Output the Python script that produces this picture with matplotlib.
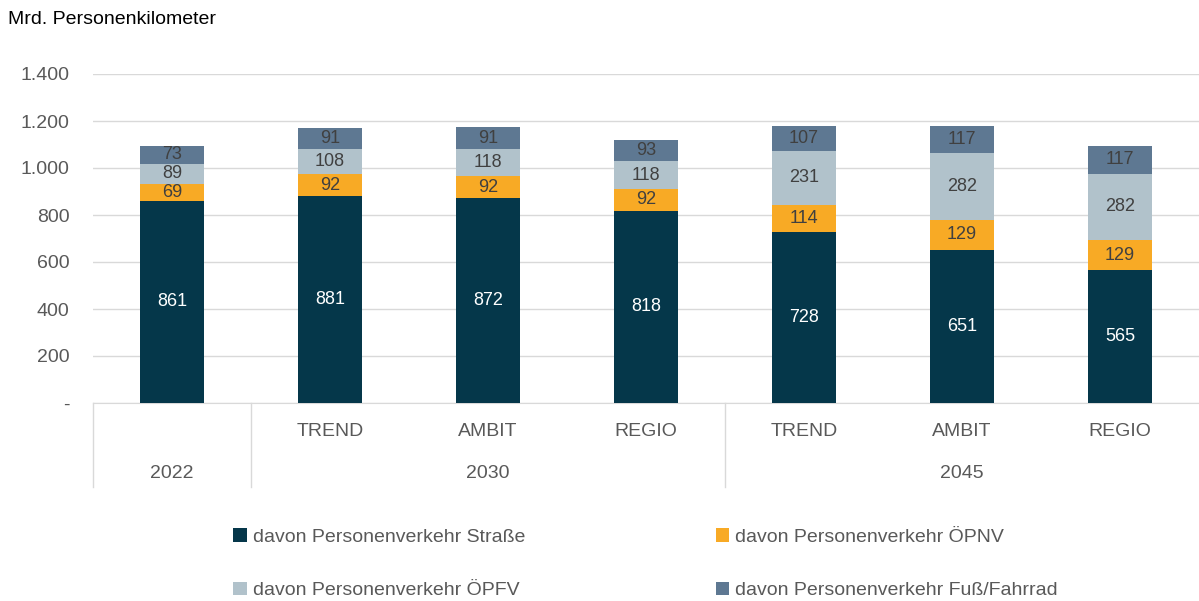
import matplotlib.pyplot as plt
from matplotlib.ticker import FuncFormatter
import numpy as np

plt.rcParams['font.family'] = ['Liberation Sans', 'DejaVu Sans']

scenarios = ["", "TREND", "AMBIT", "REGIO", "TREND", "AMBIT", "REGIO"]
years = ["2022", "2030", "2045"]
year_spans = [(0, 1), (1, 4), (4, 7)]  # category index ranges per year

strasse = [861, 881, 872, 818, 728, 651, 565]
oepnv = [69, 92, 92, 92, 114, 129, 129]
oepfv = [89, 108, 118, 118, 231, 282, 282]
fuss = [73, 91, 91, 93, 107, 117, 117]

series = [
    ("davon Personenverkehr Straße", strasse, "#05374A", "white"),
    ("davon Personenverkehr ÖPNV", oepnv, "#F8AA25", "#404040"),
    ("davon Personenverkehr ÖPFV", oepfv, "#B1C2CB", "#404040"),
    ("davon Personenverkehr Fuß/Fahrrad", fuss, "#5E7892", "#404040"),
]

grey = "#595959"
fig = plt.figure(figsize=(11.99, 6.01), dpi=100)
ax = fig.add_axes([93 / 1199, 1 - 403 / 601, 1 - 93 / 1199, (403 - 74) / 601])

x = np.arange(len(scenarios))
bottom = np.zeros(len(scenarios))
handles = []
for label, vals, color, tcolor in series:
    bars = ax.bar(x, vals, width=0.405, bottom=bottom, color=color, label=label, zorder=3)
    handles.append(bars)
    for xi, b, v in zip(x, bottom, vals):
        ax.text(xi, b + v / 2, str(v), ha="center", va="center", fontsize=13,
                color=tcolor, zorder=4)
    bottom += np.array(vals)

ax.set_xlim(-0.5, len(scenarios) - 0.5)
ax.set_ylim(0, 1400)
ax.set_yticks(range(0, 1401, 200))
ax.yaxis.set_major_formatter(FuncFormatter(
    lambda v, p: "-" if v == 0 else f"{int(v):,}".replace(",", ".")))
ax.tick_params(axis="y", length=0, labelsize=14, labelcolor=grey, pad=17)
ax.set_xticks([])
ax.grid(axis="y", color="#D9D9D9", linewidth=1, zorder=0)
for s in ["top", "right", "left"]:
    ax.spines[s].set_visible(False)
ax.spines["bottom"].set_color("#D9D9D9")

# two-level category axis
trans = ax.get_xaxis_transform()
for xi, name in zip(x, scenarios):
    ax.text(xi, -0.088, name, transform=trans, ha="center", va="center",
            fontsize=14, color=grey)
for (a, b), yr in zip(year_spans, years):
    ax.text((a + b - 1) / 2, -0.213, yr, transform=trans, ha="center", va="center",
            fontsize=14, color=grey)
    ax.plot([a - 0.5, a - 0.5], [0, -0.255], transform=trans, color="#D9D9D9",
            linewidth=1, clip_on=False)

fig.text(8 / 1199, 1 - 20 / 601, "Mrd. Personenkilometer", fontsize=14,
         color="black", ha="left", va="center")

# legend fills column-wise: reorder so rows read Straße/ÖPNV, ÖPFV/Fuß
order = [0, 2, 1, 3]
fig.legend(handles=[handles[i] for i in order], loc="upper left",
           bbox_to_anchor=(0.18, 0.15),
           ncol=2, frameon=False, fontsize=14, labelcolor=grey,
           handlelength=0.7, handleheight=0.7, handletextpad=0.3,
           columnspacing=9.8, labelspacing=1.83)

fig.savefig("out.png", dpi=100)
